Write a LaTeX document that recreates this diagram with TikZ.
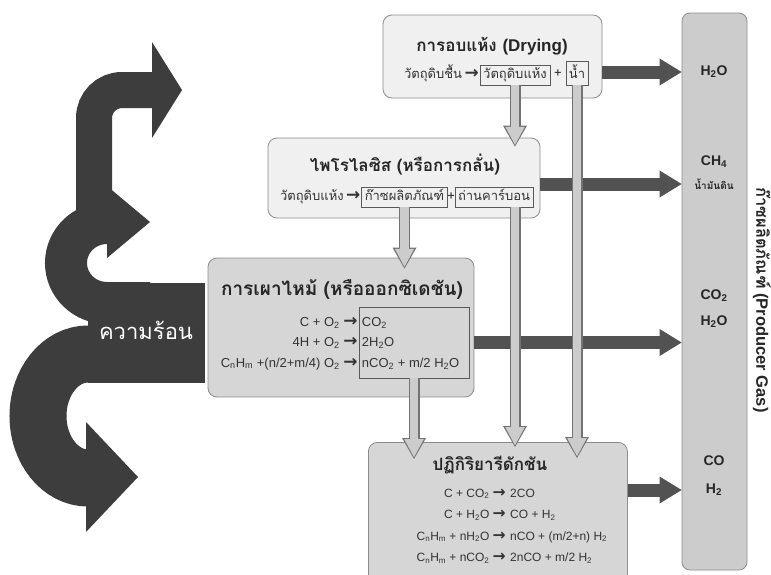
\documentclass[tikz,border=0pt]{standalone}
\usepackage{fontspec}
\usepackage{graphicx}
\setmainfont{Liberation Sans}
\newfontfamily\thaifont[Script=Thai]{Loma}
\newfontfamily\symfont{DejaVu Sans}
\usetikzlibrary{arrows.meta,calc,positioning}
\newcommand{\rarr}{\scalebox{1.3}{\symfont\bfseries →}}
\newcommand{\lo}[1]{\textsubscript{#1}}
\definecolor{boxline}{gray}{0.55}
\definecolor{litefill}{gray}{0.94}
\definecolor{darkfill}{gray}{0.84}
\definecolor{gasfill}{gray}{0.80}
\definecolor{heatgray}{gray}{0.24}
\definecolor{hotgray}{gray}{0.32}
\definecolor{flowfill}{gray}{0.80}
\definecolor{flowline}{gray}{0.45}
\tikzset{
  litebox/.style={draw=boxline, fill=litefill, rounded corners=9pt, line width=0.8pt},
  darkbox/.style={draw=boxline, fill=darkfill, rounded corners=9pt, line width=0.8pt},
  gasbox/.style={draw=boxline, fill=gasfill, rounded corners=8pt, line width=0.8pt},
  titletext/.style={font=\thaifont\bfseries\fontsize{17}{19}\selectfont, text=black!85},
  rowtext/.style={font=\thaifont\fontsize{13}{15}\selectfont, text=black!80, inner sep=1pt, text height=10pt, text depth=4pt},
  inbox/.style={rowtext, draw=black!65, line width=0.6pt, inner sep=3pt},
  combeq/.style={font=\fontsize{13}{20.5}\selectfont, text=black!80, inner sep=1pt},
  redeq/.style={font=\fontsize{12}{21.5}\selectfont, text=black!80, inner sep=1pt},
  gastext/.style={font=\bfseries\fontsize{14}{16}\selectfont, text=black!85},
  heatflow/.style={draw=heatgray},
  hot/.style={draw=hotgray, line width=13pt, -{Triangle[width=27pt,length=22pt,line width=0pt]}},
  flow/.style={draw=flowline, line width=11pt, -{Triangle[width=24pt,length=21pt,line width=0pt]},
    postaction={draw=flowfill, line width=8.6pt, shorten >=1.8pt, -{Triangle[width=19.5pt,length=18pt,line width=0pt]}}}
}
\begin{document}
\begin{tikzpicture}[x=1pt,y=-1pt]
\useasboundingbox (0,0) rectangle (771,574);

\fill[heatgray] (88,283) rectangle (205,383);
\draw[heatflow, line width=36pt] (94,240) -- (94,118) arc[start angle=180, end angle=270, radius=28] -- (153,90);
\fill[heatgray] (152,42) -- (182,90) -- (152,138) -- cycle;
\draw[heatflow, line width=42pt] (150,303) -- (107,303) arc[start angle=90, end angle=270, x radius=41, y radius=40] -- (109,223);
\fill[heatgray] (107,186) -- (150,222) -- (107,258) -- cycle;
\draw[heatflow, line width=57pt] (150,354) -- (88,354) arc[start angle=270, end angle=90, x radius=50, y radius=62] -- (90,478);
\fill[heatgray] (86,422) -- (138,477) -- (86,532) -- cycle;
\node[font=\thaifont\fontsize{22}{24}\selectfont, text=white] (heatlabel) at (146,330) {ความร้อน};

\node[gasbox, minimum width=65pt, minimum height=557pt] (gas) at (714.5,291.5) {};
\node[gastext] (g1) at (714,72) {H\lo2O};
\node[gastext] (g2) at (714,162) {CH\lo4};
\node[font=\thaifont\bfseries\fontsize{10}{12}\selectfont, text=black!85] (g3) at (714,184) {น้ำมันดิน};
\node[gastext] (g4) at (714,296) {CO\lo2};
\node[gastext] (g5) at (714,322) {H\lo2O};
\node[gastext] (g6) at (714,461) {CO};
\node[gastext] (g7) at (714,490) {H\lo2};
\node[font=\bfseries\fontsize{16.5}{18}\selectfont, text=black!85, rotate=-90] (gaslabel) at (762,300) {{\thaifont ก๊าซผลิตภัณฑ์} (Producer Gas)};

\node[litebox, minimum width=219pt, minimum height=83pt] (dry) at (492.5,56.5) {};
\node[titletext] (drytitle) at (492,46) {การอบแห้ง {\rmfamily (Drying)}};
\node[inbox] (drymid) at (515,75) {วัตถุดิบแห้ง};
\node[inbox, text height=14pt] (water) at (577,73) {น้ำ};
\node[rowtext, left=0pt of drymid] (dryarr) {\rarr};
\node[rowtext, left=0pt of dryarr] (drywet) {วัตถุดิบชื้น};
\node[rowtext] (dryplus) at ($(drymid.east)!0.5!(water.west)$) {+};

\node[litebox, minimum width=272pt, minimum height=80pt] (pyro) at (404,178) {};
\node[titletext] (pyrotitle) at (405,165) {ไพโรไลซิส (หรือการกลั่น)};
\node[inbox] (prodgas) at (404.5,197) {ก๊าซผลิตภัณฑ์};
\node[inbox] (char) at (494,197) {ถ่านคาร์บอน};
\node[rowtext, left=0pt of prodgas] (pyroarr) {\rarr};
\node[rowtext, left=0pt of pyroarr] (pyrodry) {วัตถุดิบแห้ง};
\node[rowtext] (pyroplus) at ($(prodgas.east)!0.5!(char.west)$) {+};

\node[darkbox, minimum width=266pt, minimum height=139pt] (comb) at (341,327.5) {};
\node[titletext, font=\thaifont\bfseries\fontsize{19}{21}\selectfont] (combtitle) at (342,289) {การเผาไหม้ (หรือออกซิเดชัน)};
\node[draw=black!65, line width=0.6pt, minimum width=110pt, minimum height=71pt] (combout) at (414,342.5) {};
\node[combeq, align=left, anchor=west] (combprod) at ($(combout.west)+(2,0)$) {\strut CO\lo2\\\strut 2H\lo2O\\\strut nCO\lo2 + m/2 H\lo2O};
\node[combeq, align=right, anchor=east] (combreact) at (combout.west) {\strut C + O\lo2 \rarr\\\strut 4H + O\lo2 \rarr\\\strut C\lo nH\lo m +(n/2+m/4) O\lo2 \rarr};

\node[darkbox, minimum width=259pt, minimum height=150pt, anchor=north west] (red) at (368,442) {};
\node[titletext] (redtitle) at (490,465) {ปฏิกิริยารีดักชัน};
\node[redeq, align=right, anchor=east] (redreact) at (507,525) {\strut C + CO\lo2 \rarr\\\strut C + H\lo2O \rarr\\\strut C\lo nH\lo m + nH\lo2O \rarr\\\strut C\lo nH\lo m + nCO\lo2 \rarr};
\node[redeq, align=left, anchor=west] (redprod) at ($(redreact.east)+(2,0)$) {\strut 2CO\\\strut CO + H\lo2\\\strut nCO + (m/2+n) H\lo2\\\strut 2nCO + m/2 H\lo2};

\draw[hot] (dry.east |- g1) -- (gas.west |- g1);
\draw[hot] (pyro.east |- g3) -- (gas.west |- g3);
\draw[hot] (comb.east |- combout) -- (gas.west |- combout);
\draw[hot] (red.east |- g7) -- (gas.west |- g7);

\coordinate (tip1) at ($(drymid |- pyro.north)+(0,9)$);
\coordinate (tip2) at ($(water |- red.north)+(0,16)$);
\coordinate (tip3) at ($(prodgas |- comb.north)+(0,11)$);
\coordinate (tip4) at ($(drymid |- red.north)+(0,5)$);
\coordinate (tip5) at ($(combout |- red.north)+(0,17)$);
\draw[flow] (drymid.south) -- (tip1);
\draw[flow] (water.south) -- (tip2);
\draw[flow] (prodgas.south) -- (tip3);
\draw[flow] (char.south -| drymid) -- (tip4);
\draw[flow] (combout.south) -- (tip5);
\end{tikzpicture}
\end{document}
